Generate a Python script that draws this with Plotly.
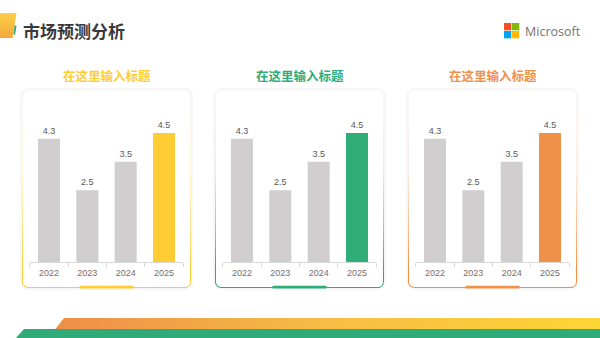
import numpy as np
import plotly.graph_objects as go

# ---------------- data ----------------
categories = ["2022", "2023", "2024", "2025"]
values_1 = [4.3, 2.5, 3.5, 4.5]
values_2 = [4.3, 2.5, 3.5, 4.5]
values_3 = [4.3, 2.5, 3.5, 4.5]
panel_titles = ["在这里输入标题", "在这里输入标题", "在这里输入标题"]
page_title = "市场预测分析"
brand = "Microsoft"

# ---------------- style ----------------
W, H = 600, 338
GRAY_BAR = "#D0CECE"
ACCENTS = ["#FFCD33", "#2EAD78", "#F0914A"]
ACCENT_MID = ["#FFE38A", "#8FD0B3", "#F6BE95"]
ACCENT_LIGHT = ["#FFF6DA", "#E2F3EB", "#FCEDE2"]
CJK = "Noto Sans CJK SC"
LAT = "Liberation Sans"

def Y(py):
    return H - py

def rrect(x0, y0, x1, y1, r, n=10):
    xs, ys = [], []
    corners = [((x0 + r, y0 + r), 180, 270), ((x1 - r, y0 + r), 270, 360),
               ((x1 - r, y1 - r), 0, 90), ((x0 + r, y1 - r), 90, 180)]
    for (cx, cy), a0, a1 in corners:
        for a in np.linspace(np.radians(a0), np.radians(a1), n):
            xs.append(cx + r * np.cos(a))
            ys.append(Y(cy + r * np.sin(a)))
    xs.append(xs[0]); ys.append(ys[0])
    return xs, ys

fig = go.Figure()

# ---------------- decoration layer (pixel axis x/y) ----------------
card_left = [22, 215, 408]
card_w, card_top, card_bot = 169, 90, 288

for i, cx0 in enumerate(card_left):
    cx1 = cx0 + card_w
    # soft shadow
    xs, ys = rrect(cx0 - 2, card_top - 2, cx1 + 2, card_bot + 2, 8)
    fig.add_trace(go.Scatter(x=xs, y=ys, mode="lines", fill="toself", line=dict(width=0),
                             fillcolor="rgba(0,0,0,0.03)", hoverinfo="skip", showlegend=False,
                             xaxis="x", yaxis="y"))
    # gradient border
    xs, ys = rrect(cx0, card_top, cx1, card_bot, 6)
    fig.add_trace(go.Scatter(x=xs, y=ys, mode="lines", fill="toself", line=dict(width=0),
                             fillgradient=dict(type="vertical",
                                               colorscale=[[0, ACCENTS[i]], [0.1, ACCENTS[i]],
                                                           [0.3, ACCENT_MID[i]],
                                                           [0.6, ACCENT_LIGHT[i]], [1, "#F8F8F8"]]),
                             hoverinfo="skip", showlegend=False, xaxis="x", yaxis="y"))
    # inner white
    xs, ys = rrect(cx0 + 1, card_top + 1, cx1 - 1, card_bot - 1, 5)
    fig.add_trace(go.Scatter(x=xs, y=ys, mode="lines", fill="toself", line=dict(width=0),
                             fillcolor="white", hoverinfo="skip", showlegend=False,
                             xaxis="x", yaxis="y"))

# bottom bands
fig.add_trace(go.Scatter(x=[64, 600, 600, 55, 64], y=[Y(318), Y(318), Y(329.5), Y(329.5), Y(318)],
                         mode="lines", fill="toself", line=dict(width=0),
                         fillgradient=dict(type="horizontal",
                                           colorscale=[[0, "#EE8E48"], [0.5, "#F6BD45"], [1, "#FDD535"]]),
                         hoverinfo="skip", showlegend=False, xaxis="x", yaxis="y"))
fig.add_trace(go.Scatter(x=[24, 600, 600, 15, 24], y=[Y(329), Y(329), Y(339), Y(339), Y(329)],
                         mode="lines", fill="toself", line=dict(width=0), fillcolor="#2EAB78",
                         hoverinfo="skip", showlegend=False, xaxis="x", yaxis="y"))

# left header ornament
fig.add_trace(go.Scatter(x=[0, 16.5, 12.5, 0, 0], y=[Y(13), Y(13), Y(38), Y(38), Y(13)],
                         mode="lines", fill="toself", line=dict(width=0),
                         fillgradient=dict(type="vertical",
                                           colorscale=[[0, "#F5A83A"], [1, "#FDD04A"]]),
                         hoverinfo="skip", showlegend=False, xaxis="x", yaxis="y"))

shapes = [
    dict(type="line", xref="x", yref="y", x0=15.6, y0=Y(25.5), x1=14.2, y1=Y(34.5),
         line=dict(color="#2EAB78", width=1.8), layer="above"),
]
# Microsoft logo squares
for (sx, sy, col) in [(504, 23, "#F25022"), (512, 23, "#7FBA00"),
                      (504, 31, "#00A4EF"), (512, 31, "#FFB900")]:
    shapes.append(dict(type="rect", xref="x", yref="y", x0=sx, x1=sx + 7.3, y0=Y(sy), y1=Y(sy + 7.3),
                       fillcolor=col, line=dict(width=0), layer="above"))
# accent bars under cards
for i, cx0 in enumerate(card_left):
    mid = cx0 + card_w / 2
    shapes.append(dict(type="rect", xref="x", yref="y", x0=mid - 27, x1=mid + 27,
                       y0=Y(285.8), y1=Y(288.6), fillcolor=ACCENTS[i], line=dict(width=0),
                       layer="above"))

annotations = [
    dict(text=f"<b>{page_title}</b>", x=21, y=Y(30.5), xref="x", yref="y", xanchor="left",
         yanchor="middle", showarrow=False, font=dict(family=CJK, size=17, color="#3A3A3A")),
    dict(text=brand, x=523, y=Y(31.5), xref="x", yref="y", xanchor="left", yanchor="middle",
         showarrow=False, font=dict(family="Open Sans", size=12.5, color="#737373")),
]
for i, cx0 in enumerate(card_left):
    annotations.append(dict(text=f"<b>{panel_titles[i]}</b>", x=cx0 + card_w / 2, y=Y(75.5),
                            xref="x", yref="y", xanchor="center", yanchor="middle",
                            showarrow=False, font=dict(family=CJK, size=12.5, color=ACCENTS[i])))

# ---------------- bar charts ----------------
all_values = [values_1, values_2, values_3]
plot_x0 = [29.8, 222.8, 415.8]
plot_w = 153.4
base_px, top_px = 262, 118.7
for i in range(3):
    ax = i + 2
    colors = [GRAY_BAR] * (len(categories) - 1) + [ACCENTS[i]]
    fig.add_trace(go.Bar(x=categories, y=all_values[i], marker=dict(color=colors, line=dict(width=0)),
                         text=[f"{v:.1f}" for v in all_values[i]], textposition="outside",
                         textfont=dict(family=LAT, size=9, color="#595959"), cliponaxis=False,
                         hoverinfo="skip", showlegend=False,
                         xaxis=f"x{ax}", yaxis=f"y{ax}"))

layout = dict(
    width=W, height=H, margin=dict(l=0, r=0, t=0, b=0),
    paper_bgcolor="white", plot_bgcolor="rgba(0,0,0,0)",
    bargap=0.426, showlegend=False,
    xaxis=dict(domain=[0, 1], range=[0, W], visible=False, fixedrange=True),
    yaxis=dict(domain=[0, 1], range=[0, H], visible=False, fixedrange=True),
    shapes=shapes, annotations=annotations,
)
for i in range(3):
    ax = i + 2
    layout[f"xaxis{ax}"] = dict(domain=[plot_x0[i] / W, (plot_x0[i] + plot_w) / W],
                                anchor=f"y{ax}", type="category", showline=True,
                                linecolor="#D9D9D9", linewidth=1, ticks="outside",
                                tickson="boundaries", ticklen=4, tickcolor="#D9D9D9",
                                ticklabelstandoff=2,
                                showgrid=False, zeroline=False,
                                tickfont=dict(family=LAT, size=9, color="#7A6C6C"),
                                fixedrange=True)
    layout[f"yaxis{ax}"] = dict(domain=[(H - base_px) / H, (H - top_px) / H], anchor=f"x{ax}",
                                range=[0, 5], visible=False, showgrid=False, zeroline=False,
                                fixedrange=True)
fig.update_layout(**layout)

fig.write_html("out.html")
